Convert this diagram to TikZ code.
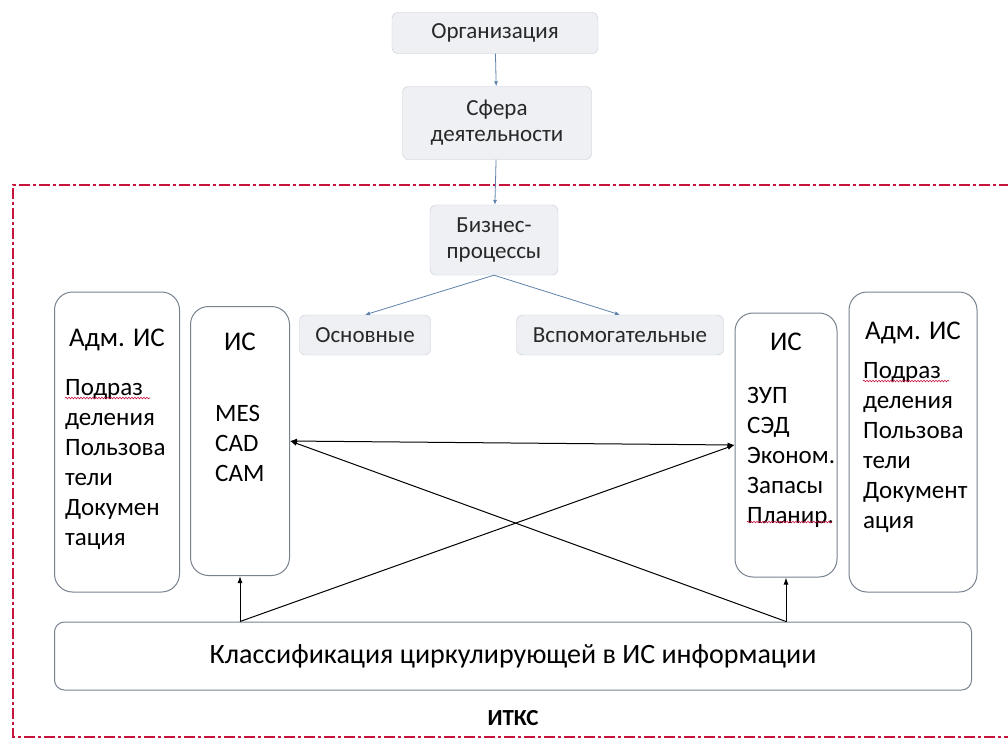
\documentclass[tikz,border=0pt]{standalone}
\usepackage{fontspec}
\setmainfont{Carlito}
\usetikzlibrary{arrows.meta, positioning, decorations.pathmorphing}
\definecolor{ITRed}{RGB}{200,20,60}
\definecolor{ITGray}{RGB}{120,130,142}
\definecolor{ITFill}{RGB}{238,240,244}
\definecolor{ITLine}{RGB}{196,202,212}
\definecolor{ITBlue}{RGB}{95,130,170}
\definecolor{ITText}{RGB}{40,40,40}

\begin{document}
\begin{tikzpicture}[x=1pt, y=-1pt]
  % Styles
  \tikzset{
    proc/.style={draw=ITLine, fill=ITFill, rounded corners=6pt, text=ITText,
      font=\fontsize{23}{26}\selectfont, align=center, inner sep=0},
    sysbox/.style={draw=ITGray, line width=1pt, rounded corners=18pt, fill=white, inner sep=0},
    flow/.style={ITBlue, line width=0.8pt, -{Latex[length=5pt,width=4pt]}},
    link/.style={black, line width=1pt, -{Latex[length=7pt,width=5pt]}},
    body/.style={font=\fontsize{25}{30}\selectfont, align=left, anchor=north west, inner sep=0},
    head/.style={font=\fontsize{27}{30}\selectfont, inner sep=0},
    typo/.style={ITRed, line width=0.6pt, decorate,
      decoration={snake, amplitude=0.8pt, segment length=3pt}}
  }
  \useasboundingbox (0,0) rectangle (1008,740);

  % ITKS frame
  \draw[ITRed, line width=1.3pt, dash pattern=on 11pt off 3pt on 3pt off 3pt]
    (1010,185) -- (13,185) -- (13,737) -- (1010,737);

  % Top chain
  \node[proc, minimum width=206, minimum height=41] (org) at (495,33) {Организация};
  \node[proc, minimum width=189, minimum height=73] (sfera) at (497,123) {Сфера\\деятельности};
  \node[proc, minimum width=128, minimum height=70] (biz) at (494,240) {Бизнес-\\процессы};
  \node[proc, minimum width=131, minimum height=40] (osn) at (365,335) {Основные};
  \node[proc, minimum width=207, minimum height=40] (vsp) at (620,335) {Вспомогательные};

  \draw[flow] (org) -- (sfera);
  \draw[flow] (sfera) -- (biz);
  \draw[flow] (biz.south) -- (osn.north);
  \draw[flow] (biz.south) -- (vsp.north);

  % Left systems
  \node[sysbox, minimum width=125, minimum height=300] (admL) at (117,442) {};
  \node[sysbox, minimum width=99, minimum height=269] (isL) at (240,441) {};
  \node[head] (admLhead) at (117,340) {Адм. ИС};
  \node[body] (admLtext) at (65,379) {Подраз\\деления\\Пользова\\тели\\Докумен\\тация};
  \node[head] (isLhead) at (240,342) {ИС};
  \node[body] (isLtext) at (215,405) {MES\\CAD\\CAM};

  % Right systems
  \node[sysbox, minimum width=102, minimum height=264] (isR) at (786,445) {};
  \node[sysbox, minimum width=128, minimum height=300] (admR) at (913,442) {};
  \node[head] (isRhead) at (786,342) {ИС};
  \node[body] (isRtext) at (747,387) {ЗУП\\СЭД\\Эконом.\\Запасы\\Планир.};
  \node[head] (admRhead) at (913,333) {Адм. ИС};
  \node[body] (admRtext) at (863,362) {Подраз\\деления\\Пользова\\тели\\Документ\\ация};

  % Spelling marks
  \draw[typo] (65,398) -- (150,398);
  \draw[typo] (863,381) -- (949,381);
  \draw[typo] (747,522) -- (832,522);

  % Classification
  \node[sysbox, rounded corners=10pt, minimum width=917, minimum height=68,
    font=\fontsize{28}{32}\selectfont] (klass) at (513,656)
    {Классификация циркулирующей в ИС информации};
  \node[font=\fontsize{23}{26}\selectfont\bfseries] (itks) at (513,718) {ИТКС};

  % Links
  \coordinate (kL) at (isL.south |- klass.north);
  \coordinate (kR) at (isR.south |- klass.north);
  \draw[link] (kL) -- (isL.south);
  \draw[link] (kR) -- (isR.south);
  \draw[link] (kL) -- (isR.west);
  \draw[link] (kR) -- (isL.east);
  \draw[link, {Latex[length=7pt,width=5pt]}-{Latex[length=7pt,width=5pt]}] (isL.east) -- (isR.west);
\end{tikzpicture}
\end{document}
